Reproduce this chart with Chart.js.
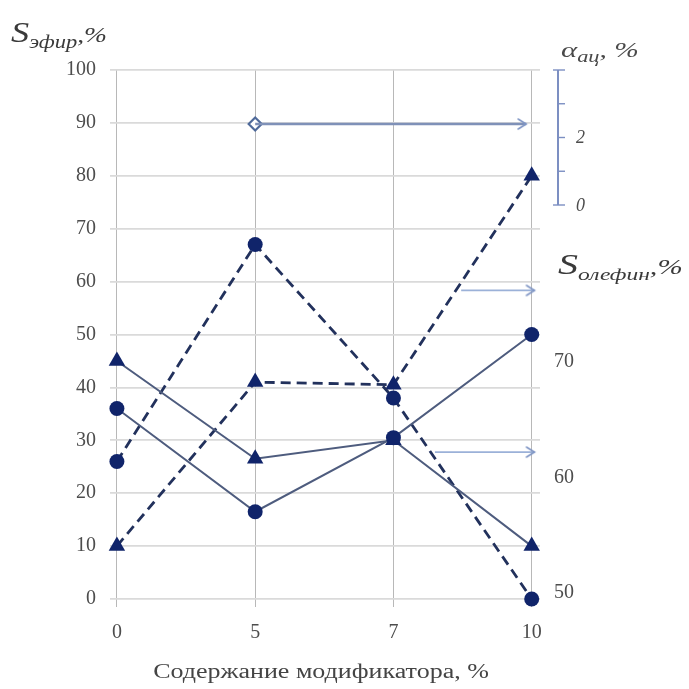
<!DOCTYPE html>
<html><head><meta charset="utf-8">
<script src="https://cdn.jsdelivr.net/npm/chart.js@4.4.0/dist/chart.umd.min.js"></script>
<style>html,body{margin:0;padding:0;background:#fff}#wrap{width:689px;height:689px}</style>
</head><body><div id="wrap"><canvas id="c" width="689" height="689"></canvas></div>
<script>
// ---- data ----
const categories = ['0', '5', '7', '10'];
const solidCircle = [36, 16.5, 30.5, 50];
const solidTriangle = [45, 26.5, 30, 10];
const dashedCircle = [26, 67, 38, 0];
const dashedTriangle = [10, 41, 40.5, 80];
const alphaPoint = [{x: 1, y: 2.4}];
const alphaArrow = [{x: 1, y: 2.4}, {x: 2.96, y: 2.4}];
const olefinArrowUpper = [{x: 2.49, y: 76.2}, {x: 3.02, y: 76.2}];
const olefinArrowLower = [{x: 2.3, y: 62.2}, {x: 3.02, y: 62.2}];
const leftTicks = [0, 10, 20, 30, 40, 50, 60, 70, 80, 90, 100];
const olefinTicks = [50, 60, 70];
const alphaTicks = [0, 1, 2, 3, 4];
const alphaTickLabels = {0: '0', 2: '2'};
const xTitle = 'Содержание модификатора, %';

const SERIF = '"Liberation Serif", "DejaVu Serif", serif';
const LABEL = '#4d4d4d';
const MARK = '#10246a';

const pts = arr => arr.map((v, i) => ({x: i, y: v}));

function chevron() {
  const c = document.createElement('canvas');
  c.width = 24; c.height = 14;
  const g = c.getContext('2d');
  g.strokeStyle = '#7f95c4'; g.lineWidth = 1.6; g.lineCap = 'round';
  g.beginPath(); g.moveTo(4, 2); g.lineTo(12, 7); g.lineTo(4, 12); g.stroke();
  return c;
}
const arrowHead = chevron();

const lineBase = {type: 'line', tension: 0, clip: false, pointBorderWidth: 0};

const datasets = [
  Object.assign({}, lineBase, {data: pts(solidCircle), borderColor: '#4e5c7e', borderWidth: 2,
    pointStyle: 'circle', pointRadius: 7.5, pointBackgroundColor: MARK, pointBorderColor: MARK}),
  Object.assign({}, lineBase, {data: pts(solidTriangle), borderColor: '#4e5c7e', borderWidth: 2,
    pointStyle: 'triangle', pointRadius: 9.5, pointBackgroundColor: MARK, pointBorderColor: MARK}),
  Object.assign({}, lineBase, {data: pts(dashedCircle), borderColor: '#22315c', borderWidth: 2.8, borderDash: [10, 6],
    pointStyle: 'circle', pointRadius: 7.5, pointBackgroundColor: MARK, pointBorderColor: MARK}),
  Object.assign({}, lineBase, {data: pts(dashedTriangle), borderColor: '#22315c', borderWidth: 2.8, borderDash: [10, 6],
    pointStyle: 'triangle', pointRadius: 9.5, pointBackgroundColor: MARK, pointBorderColor: MARK}),
  Object.assign({}, lineBase, {data: alphaArrow, yAxisID: 'y3', borderColor: '#7f91b8', borderWidth: 2.4,
    pointStyle: arrowHead, pointRadius: [0, 5]}),
  Object.assign({}, lineBase, {data: alphaPoint, yAxisID: 'y3', showLine: false,
    pointStyle: 'rectRot', pointRadius: 6.5, pointBackgroundColor: '#ffffff', pointBorderColor: '#4f6a9a', pointBorderWidth: 2.2}),
  Object.assign({}, lineBase, {data: olefinArrowUpper, yAxisID: 'y2', borderColor: '#9bb1d8', borderWidth: 1.8,
    pointStyle: arrowHead, pointRadius: [0, 5]}),
  Object.assign({}, lineBase, {data: olefinArrowLower, yAxisID: 'y2', borderColor: '#9bb1d8', borderWidth: 1.8,
    pointStyle: arrowHead, pointRadius: [0, 5]})
];

function drawParts(ctx, x, y, parts, color, sx) {
  ctx.save();
  ctx.translate(x, y);
  ctx.scale(sx || 1, 1);
  ctx.fillStyle = color;
  ctx.textBaseline = 'alphabetic';
  ctx.textAlign = 'left';
  let cx = 0;
  for (const p of parts) {
    ctx.font = (p.italic ? 'italic ' : '') + p.size + 'px ' + SERIF;
    ctx.fillText(p.t, cx, (p.dy || 0));
    cx += ctx.measureText(p.t).width + (p.gap || 0);
  }
  ctx.restore();
}

const annotations = {
  id: 'annotations',
  afterDraw(chart) {
    const ctx = chart.ctx;
    // left title
    drawParts(ctx, 11, 42, [
      {t: 'S', size: 29, italic: true},
      {t: 'эфир', size: 18, italic: true, dy: 6},
      {t: ',%', size: 22, italic: true}
    ], '#3a3a3a', 1.25);
    // alpha title
    drawParts(ctx, 561, 57, [
      {t: 'α', size: 22, italic: true},
      {t: 'ац', size: 16, italic: true, dy: 5},
      {t: ', %', size: 21, italic: true, gap: 0}
    ], '#4a4a4a', 1.4);
    // olefin title
    drawParts(ctx, 558, 274, [
      {t: 'S', size: 29, italic: true},
      {t: 'олефин', size: 17, italic: true, dy: 6},
      {t: ',%', size: 22, italic: true}
    ], '#3a3a3a', 1.38);
    // x axis title
    const xs = chart.scales.x;
    ctx.save();
    ctx.font = '20px ' + SERIF;
    ctx.fillStyle = '#444';
    ctx.textBaseline = 'middle';
    ctx.textAlign = 'center';
    ctx.translate((xs.left + xs.right) / 2 - 4, 673);
    ctx.scale(1.3, 1);
    ctx.fillText(xTitle, 0, 0);
    ctx.restore();

    // alpha axis (short axis) through the y3 scale
    const s = chart.scales.y3;
    const ax = 558;
    const top = s.getPixelForValue(alphaTicks[alphaTicks.length - 1]);
    const bot = s.getPixelForValue(alphaTicks[0]);
    ctx.save();
    ctx.strokeStyle = '#7c8fc2';
    ctx.lineWidth = 2;
    ctx.beginPath(); ctx.moveTo(ax, top); ctx.lineTo(ax, bot); ctx.stroke();
    ctx.lineWidth = 1.4;
    alphaTicks.forEach((v, i) => {
      const py = s.getPixelForValue(v);
      const end = (i === 0 || i === alphaTicks.length - 1);
      ctx.beginPath(); ctx.moveTo(end ? ax - 5 : ax, py); ctx.lineTo(ax + 7, py); ctx.stroke();
    });
    ctx.fillStyle = LABEL;
    ctx.font = 'italic 18px ' + SERIF;
    ctx.textBaseline = 'middle';
    ctx.textAlign = 'left';
    alphaTicks.forEach(v => {
      if (alphaTickLabels[v] !== undefined) ctx.fillText(alphaTickLabels[v], ax + 18, s.getPixelForValue(v) + 1);
    });
    ctx.restore();
  }
};

new Chart(document.getElementById('c'), {
  type: 'line',
  data: {datasets},
  options: {
    responsive: false,
    animation: false,
    layout: {padding: {left: 0, right: 109, top: 70, bottom: 0}},
    plugins: {legend: {display: false}, tooltip: {enabled: false}},
    scales: {
      x: {
        type: 'linear', min: -0.05, max: 3.06,
        afterBuildTicks: s => { s.ticks = categories.map((c, i) => ({value: i})); },
        ticks: {callback: v => categories[v], font: {family: SERIF, size: 20}, color: LABEL, padding: 14, maxRotation: 0},
        grid: {color: '#b8b8b8', lineWidth: 1, tickLength: 8},
        border: {display: false},
        afterFit: s => { s.height = 90; }
      },
      y: {
        min: 0, max: 100,
        afterBuildTicks: s => { s.ticks = leftTicks.map(v => ({value: v})); },
        ticks: {font: {family: SERIF, size: 20}, color: LABEL, padding: 14},
        grid: {color: '#dadada', lineWidth: 1.7, drawTicks: false},
        border: {display: false},
        afterFit: s => { s.width = 110; }
      },
      y2: {
        position: 'right', min: 49.48, max: 95.28,
        afterBuildTicks: s => { s.ticks = olefinTicks.map(v => ({value: v})); },
        ticks: {font: {family: SERIF, size: 20}, color: LABEL, padding: 14},
        grid: {display: false, drawTicks: false},
        border: {display: false},
        afterFit: s => { s.width = 40; }
      },
      y3: {display: false, min: -11.674, max: 4}
    }
  },
  plugins: [annotations]
});
</script>
</body></html>
